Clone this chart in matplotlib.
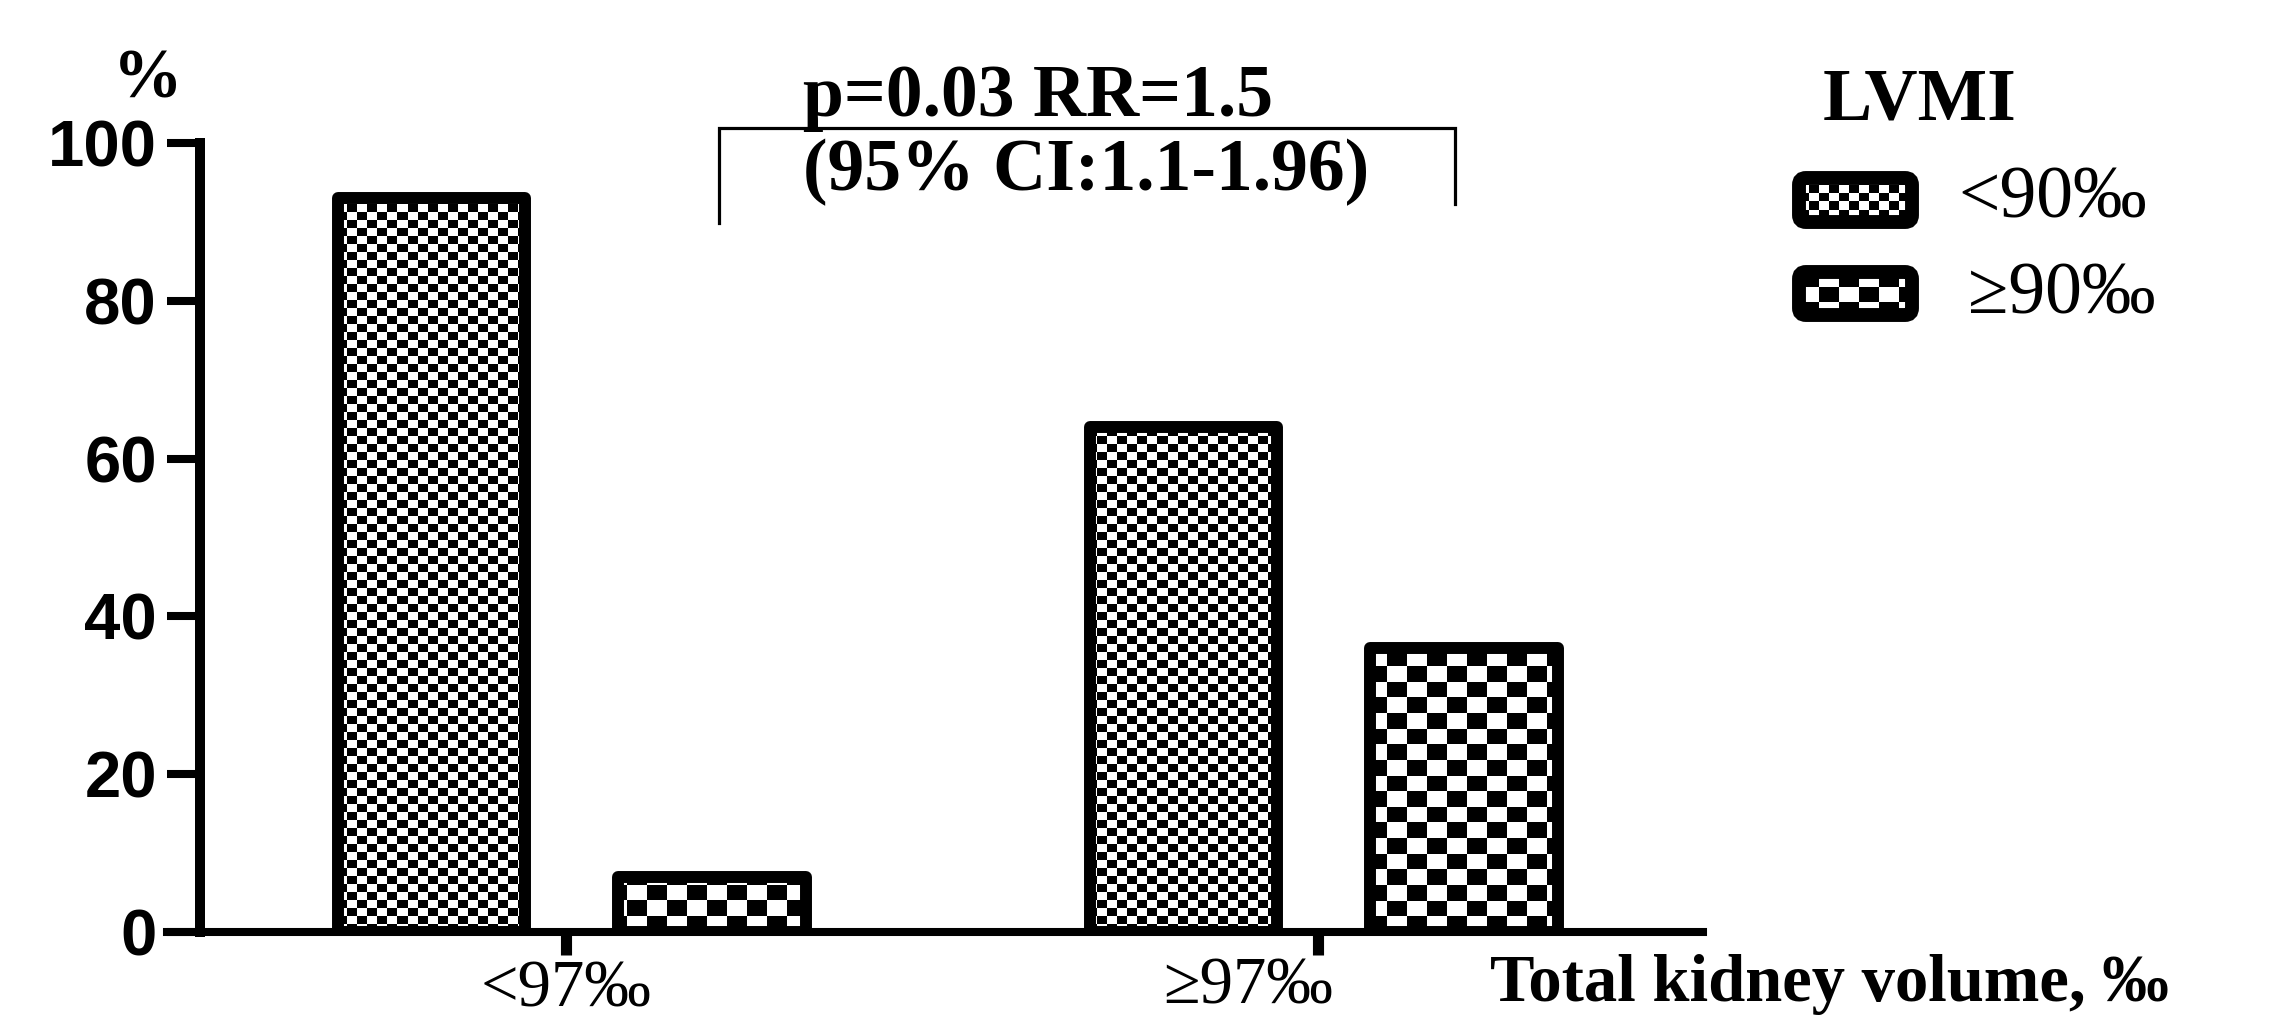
import numpy as np
import matplotlib
matplotlib.use('Agg')
import matplotlib.pyplot as plt
from matplotlib.patches import FancyBboxPatch
from matplotlib.transforms import blended_transform_factory

# ---------------- data ----------------
groups = ['<97‰', '≥97‰']            # total kidney volume categories
series_names = ['<90‰', '≥90‰']     # LVMI categories
lvmi_lt90 = [93, 64]                 # % with LVMI <90‰
lvmi_ge90 = [7, 36]                  # % with LVMI >=90‰
yticks = [0, 20, 40, 60, 80, 100]
legend_title = 'LVMI'
x_title = 'Total kidney volume, ‰'
y_title = '%'
stat_line1 = 'p=0.03 RR=1.5'
stat_line2 = '(95% CI:1.1-1.96)'

# ---------------- layout ----------------
W, H, DPI = 2295, 1021, 100
fig = plt.figure(figsize=(W / DPI, H / DPI), dpi=DPI)
fig.patch.set_facecolor('white')

AX_L, AX_R, AX_T, AX_B = 167, 1703, 143, 932
ax = fig.add_axes([AX_L / W, 1 - AX_B / H, (AX_R - AX_L) / W, (AX_B - AX_T) / H])
PX_PER_X = 752.0
TICK0 = 566.0
x0 = (AX_L - TICK0) / PX_PER_X
x1 = (AX_R - TICK0) / PX_PER_X
SX = 1.0 / PX_PER_X
SY = 100.0 / (AX_B - AX_T)

ov = fig.add_axes([0, 0, 1, 1])
ov.set_xlim(0, W)
ov.set_ylim(H, 0)
ov.axis('off')

SERIF = ['Liberation Serif', 'DejaVu Serif']
SANS = ['Liberation Sans', 'DejaVu Sans']
FS = 53
FS_BOTTOM = 48

FINE = (10, 8)      # checker cell size in px (w, h)
COARSE = (20, 15.6)


def checker_image(axis, left, bottom, width_px, height_px, sx, sy, cell, clip, z):
    cw, ch = cell
    nx = int(np.ceil(width_px / cw)) + 1
    ny = int(np.ceil(height_px / ch)) + 1
    ii, jj = np.indices((ny, nx))
    board = ((ii + jj) % 2).astype(float)
    ext = (left, left + nx * cw * sx, bottom, bottom + ny * ch * sy)
    im = axis.imshow(board, cmap='gray', vmin=0, vmax=1, extent=ext,
                     origin='lower', interpolation='nearest', aspect='auto',
                     zorder=z)
    im.set_clip_path(clip)
    return im


# ---------------- bars ----------------
xpos = np.arange(len(groups))
width = 0.249
offsets = [-0.179, 0.194]
cells = [FINE, COARSE]
for vals, off, cell in zip([lvmi_lt90, lvmi_ge90], offsets, cells):
    bars = ax.bar(xpos + off, vals, width=width, fill=False, edgecolor='black',
                  linewidth=8.6, zorder=3, joinstyle='round')
    for b in bars:
        checker_image(ax, x0, 0, AX_R - AX_L, AX_B - AX_T, SX, SY, cell, b, 2)

ax.set_xlim(x0, x1)
ax.set_ylim(0, 100)

# ---------------- axes styling ----------------
for s in ['top', 'right']:
    ax.spines[s].set_visible(False)
ax.spines['left'].set_position(('data', (200 - TICK0) / PX_PER_X))
ax.spines['left'].set_linewidth(7.2)
ax.spines['bottom'].set_linewidth(5.8)
ax.set_yticks(yticks)
ax.set_yticklabels([str(t) for t in yticks])
ax.tick_params(axis='y', length=24, width=5.8, direction='out', pad=7, labelsize=47)
for lbl in ax.get_yticklabels():
    lbl.set_fontfamily(SANS)
    lbl.set_fontweight('bold')
ax.set_xticks(xpos)
ax.set_xticklabels([])
ax.tick_params(axis='x', length=16.5, width=8, direction='out')
ax.patch.set_alpha(0)

# x category labels (blended: data x, pixel y)
btr = blended_transform_factory(ax.transData, ov.transData)
label_shift = [0.0, -0.093]
label_top = [959, 956]
for i, g in enumerate(groups):
    ax.text(xpos[i] + label_shift[i], label_top[i], g, transform=btr, ha='center',
            va='top', fontsize=FS_BOTTOM, family=SERIF, clip_on=False)

ov.text(1490, 954, x_title, ha='left', va='top', fontsize=FS_BOTTOM, family=SERIF,
        fontweight='bold')
ov.text(148, 80, y_title, ha='center', va='center', fontsize=50, family=SERIF,
        fontweight='bold')

# ---------------- significance bracket ----------------
bx_l, bx_r = (719 - TICK0) / PX_PER_X, (1455 - TICK0) / PX_PER_X
by_top = (AX_B - 128) * SY
ax.plot([bx_l, bx_l, bx_r, bx_r],
        [(AX_B - 223) * SY, by_top, by_top, (AX_B - 204) * SY],
        color='black', linewidth=2.3, clip_on=False, solid_joinstyle='miter',
        zorder=4)
ov.text(803, 116, stat_line1, ha='left', va='baseline', fontsize=FS, family=SERIF,
        fontweight='bold')
ov.text(803, 190, stat_line2, ha='left', va='baseline', fontsize=FS, family=SERIF,
        fontweight='bold')

# ---------------- legend ----------------
ov.text(1823, 120, legend_title, ha='left', va='baseline', fontsize=FS,
        family=SERIF, fontweight='bold')
leg_boxes = [(1799, 178, 113, 44), (1799, 272, 113, 43)]
leg_text = [(1958, 217), (1968, 313)]
for name, box, tpos, cell in zip(series_names, leg_boxes, leg_text, cells):
    bx, by, bw, bh = box
    p = FancyBboxPatch((bx, by), bw, bh, boxstyle='round,pad=0,rounding_size=7',
                       linewidth=10, edgecolor='black', facecolor='none', zorder=3)
    ov.add_patch(p)
    checker_image(ov, bx, by, bw, bh, 1, 1, cell, p, 2)
    ov.text(tpos[0], tpos[1], name, ha='left', va='baseline', fontsize=FS,
            family=SERIF)

ov.set_xlim(0, W)
ov.set_ylim(H, 0)

fig.savefig('out.png', dpi=DPI, facecolor='white')
